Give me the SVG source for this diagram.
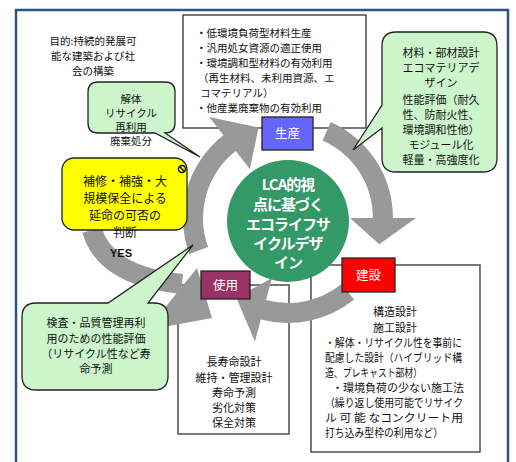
<svg xmlns="http://www.w3.org/2000/svg" width="516" height="462" viewBox="0 0 516 462">
<style>
.t{font-family:"Noto Sans CJK JP","Noto Sans",sans-serif;font-size:11px;fill:#111}
.s{font-size:10.5px}
.c{text-anchor:middle}
.box{fill:#fff;stroke:#333;stroke-width:1.3}
.bub{fill:#ccf5cc;stroke:#222;stroke-width:1.3}
.arr{fill:#999}
.lab{font-family:"Noto Sans CJK JP","Noto Sans",sans-serif;font-size:12.5px;fill:#fff;text-anchor:middle}
.ct{font-family:"Noto Sans CJK JP","Noto Sans",sans-serif;font-size:15px;font-weight:bold;fill:#fff;text-anchor:middle;letter-spacing:-1px}
</style>
<rect width="516" height="462" fill="#fff"/>
<path d="M16,462 V10 H508 V462" fill="none" stroke="#2e5283" stroke-width="2.5"/>
<g id="goal">
<text class="t s c" x="93" y="45">目的:持続的発展可</text>
<text class="t s c" x="93" y="60">能な建築および社</text>
<text class="t s c" x="93" y="75">会の構築</text>
</g>
<g id="production-box">
<rect class="box" x="183" y="15" width="183" height="113"/>
<text class="t s" x="196" y="37">・低環境負荷型材料生産</text>
<text class="t s" x="196" y="52">・汎用処女資源の適正使用</text>
<text class="t s" x="196" y="67">・環境調和型材料の有効利用</text>
<text class="t s" x="198" y="82">（再生材料、未利用資源、エ</text>
<text class="t s" x="200" y="97">コマテリアル）</text>
<text class="t s" x="196" y="112">・他産業廃棄物の有効利用</text>
</g>
<g id="construction-box">
<rect class="box" x="311" y="265" width="169" height="187"/>
<text class="t c" x="395" y="316">構造設計</text>
<text class="t c" x="395" y="332">施工設計</text>
<text class="t" x="325" y="347" textLength="137" lengthAdjust="spacingAndGlyphs">・解体・リサイクル性を事前に</text>
<text class="t" x="325" y="362" textLength="137" lengthAdjust="spacingAndGlyphs">配慮した設計（ハイブリッド構</text>
<text class="t" x="325" y="377" textLength="97" lengthAdjust="spacingAndGlyphs">造、プレキャスト部材）</text>
<text class="t" x="332" y="392">・環境負荷の少ない施工法</text>
<text class="t" x="325" y="407" textLength="138" lengthAdjust="spacingAndGlyphs">（繰り返し使用可能でリサイク</text>
<text class="t" x="325" y="422" textLength="138" lengthAdjust="spacingAndGlyphs">ル 可 能 なコンクリート用</text>
<text class="t" x="325" y="437" textLength="118" lengthAdjust="spacingAndGlyphs">打ち込み型枠の利用など）</text>
</g>
<g id="use-box">
<rect class="box" x="178" y="285" width="111" height="149"/>
<text class="t c" x="234" y="366">長寿命設計</text>
<text class="t c" x="234" y="382">維持・管理設計</text>
<text class="t c" x="234" y="397">寿命予測</text>
<text class="t c" x="234" y="412">劣化対策</text>
<text class="t c" x="234" y="427">保全対策</text>
</g>
<g id="connectors">
<path class="arr" d="M330.7,122.1 A105,105 0 0 1 393,218 L416,218 L379.3,244.2 L350,218 L373,218 A85,85 0 0 0 322.6,140.4 Z"/>
<path class="arr" d="M354.1,299.6 A105,105 0 0 1 260.8,319.4 L254.9,341.6 L236.3,297.7 L272,277.9 L266,300.1 A85,85 0 0 0 341.5,284.1 Z"/>
<path class="arr" d="M189.3,253.9 A105,105 0 0 1 223.4,135.3 L209.2,117.1 L258.6,127.6 L249.8,169.1 L235.7,151 A85,85 0 0 0 208.1,247.1 Z"/>
<path d="M92,230 Q105,276 182,284" fill="none" stroke="#999" stroke-width="20"/>
<path class="arr" d="M147,330 L197,268 L212,318 Z"/>
<text x="121" y="257" font-family="Liberation Sans,Arial,sans-serif" font-size="11" font-weight="bold" text-anchor="middle" fill="#111">YES</text>
</g>
<g id="production">
<rect x="262" y="117" width="51" height="33" fill="#6666ff" stroke="#222" stroke-width="1.3"/>
<text class="lab" x="287.5" y="138">生産</text>
</g>
<g id="construction">
<rect x="342" y="258" width="53" height="34" fill="#ff0000" stroke="#222" stroke-width="1.3"/>
<text class="lab" x="368.5" y="280">建設</text>
</g>
<g id="use">
<rect x="201" y="271" width="49" height="28" fill="#993366" stroke="#222" stroke-width="1.3"/>
<text class="lab" x="225.5" y="290">使用</text>
</g>
<g id="recycle-bubble">
<path class="bub" d="M98,82 H165 Q175,82 175,92 V123 Q175,133 165,133 L200,157 L155,133 H98 Q88,133 88,123 V92 Q88,82 98,82 Z"/>
<text class="t s c" x="131" y="103">解体</text>
<text class="t s c" x="131" y="117">リサイクル</text>
<text class="t s c" x="131" y="131">再利用</text>
<text class="t s c" x="131" y="145">廃棄処分</text>
</g>
<g id="design-bubble">
<path class="bub" d="M396,32 H483 Q497,32 497,46 V158 Q497,172 483,172 H396 Q382,172 382,158 V128 L353,150 L382,105 V46 Q382,32 396,32 Z"/>
<text class="t c" x="441" y="57">材料・部材設計</text>
<text class="t c" x="441" y="72">エコマテリアデ</text>
<text class="t c" x="441" y="87">ザイン</text>
<text class="t c" x="441" y="104">性能評価（耐久</text>
<text class="t c" x="441" y="119">性、防耐火性、</text>
<text class="t c" x="441" y="134">環境調和性他）</text>
<text class="t c" x="441" y="149">モジュール化</text>
<text class="t c" x="441" y="164">軽量・高強度化</text>
</g>
<g id="inspection-bubble">
<path class="bub" d="M36,303 H108 L193,245 L148,303 H154 Q168,303 168,317 V376 Q168,390 154,390 H36 Q22,390 22,376 V317 Q22,303 36,303 Z"/>
<text class="t c" x="96" y="327">検査・品質管理再利</text>
<text class="t c" x="96" y="343">用のための性能評価</text>
<text class="t c" x="96" y="358">（リサイクル性など寿</text>
<text class="t c" x="96" y="373">命予測</text>
</g>
<g id="decision">
<rect x="62" y="158" width="125" height="72" rx="12" fill="#ffff00" stroke="#222" stroke-width="1.3"/>
<circle cx="182" cy="169" r="3.5" fill="none" stroke="#111" stroke-width="1.5"/>
<line x1="179.5" y1="166.5" x2="184.5" y2="171.5" stroke="#111" stroke-width="1.5"/>
<g font-family="Noto Sans CJK JP,Noto Sans,sans-serif" font-size="12" fill="#111" text-anchor="middle">
<text x="125" y="186">補修・補強・大</text>
<text x="125" y="203">規模保全による</text>
<text x="125" y="220">延命の可否の</text>
<text x="125" y="237">判断</text>
</g>
</g>
<g id="lca-center">
<circle cx="288" cy="221" r="61" fill="#339966"/>
<text class="ct" x="288" y="190">LCA的視</text>
<text class="ct" x="288" y="210">点に基づく</text>
<text class="ct" x="288" y="230">エコライフサ</text>
<text class="ct" x="288" y="249">イクルデザ</text>
<text class="ct" x="288" y="268">イン</text>
</g>
</svg>
